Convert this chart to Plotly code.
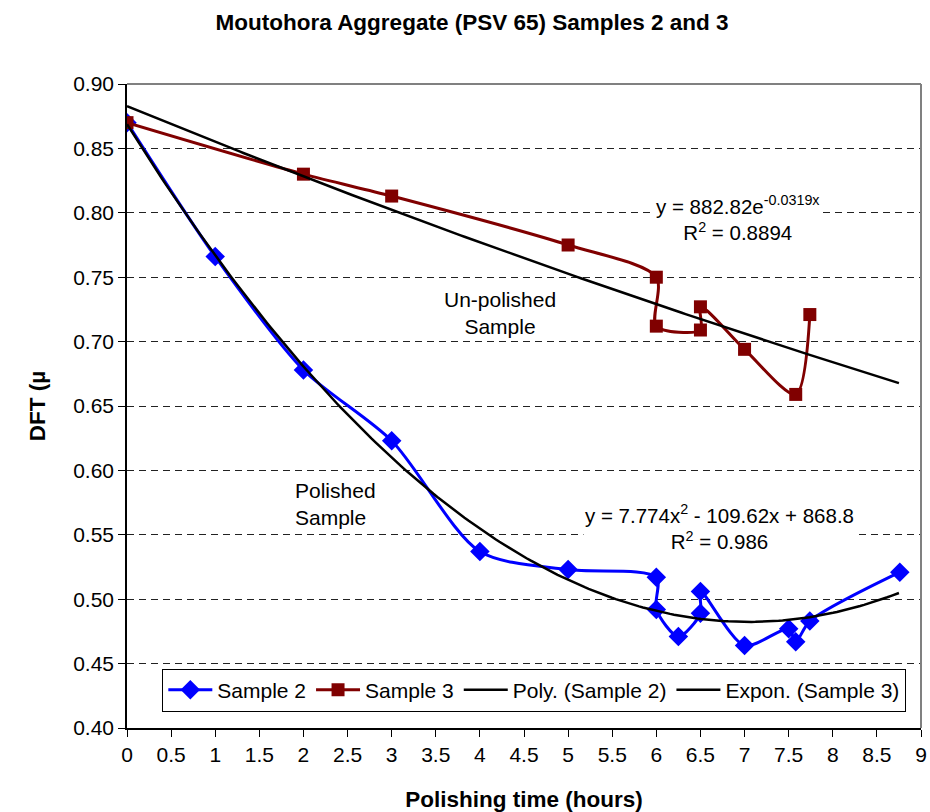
import numpy as np
import plotly.graph_objects as go

# Sample 2 (polished) – blue diamonds
s2_x = [0, 1, 2, 3, 4, 5, 6, 6, 6.25, 6.5, 6.5, 7, 7.5, 7.58, 7.74, 8.76]
s2_y = [0.870, 0.766, 0.678, 0.623, 0.537, 0.523, 0.517, 0.492, 0.471, 0.489, 0.506, 0.464, 0.477, 0.467, 0.483, 0.521]

# Sample 3 (un-polished) – dark red squares
s3_x = [0, 2, 3, 5, 6, 6, 6.5, 6.5, 7, 7.58, 7.74]
s3_y = [0.870, 0.830, 0.813, 0.775, 0.750, 0.712, 0.709, 0.727, 0.694, 0.659, 0.721]

# Trendline equations as printed on the chart (y in 1/1000 units)
poly_coef = [7.774, -109.62, 868.8]      # y = 7.774x^2 - 109.62x + 868.8
expon_a, expon_b = 882.82, -0.0319       # y = 882.82 e^(-0.0319x)
trend_x_max = 8.75

x_ticks = [0, 0.5, 1, 1.5, 2, 2.5, 3, 3.5, 4, 4.5, 5, 5.5, 6, 6.5, 7, 7.5, 8, 8.5, 9]

tx = np.linspace(0, trend_x_max, 200)
poly_y = np.polyval(poly_coef, tx) / 1000.0
expon_y = expon_a * np.exp(expon_b * tx) / 1000.0

FONT = "Liberation Sans, Arial, sans-serif"

W, H = 930, 812

fig = go.Figure()
fig.add_trace(go.Scatter(
    x=s2_x, y=s2_y, name="Sample 2", mode="lines+markers",
    line=dict(color="#0000FF", width=3, shape="spline", smoothing=0.8),
    marker=dict(symbol="diamond", size=15, color="#0000FF")))
fig.add_trace(go.Scatter(
    x=s3_x, y=s3_y, name="Sample 3", mode="lines+markers",
    line=dict(color="#800000", width=3, shape="spline", smoothing=0.8),
    marker=dict(symbol="square", size=13, color="#800000")))
fig.add_trace(go.Scatter(
    x=tx, y=poly_y, name="Poly. (Sample 2)", mode="lines",
    line=dict(color="black", width=2.5)))
fig.add_trace(go.Scatter(
    x=tx, y=expon_y, name="Expon. (Sample 3)", mode="lines",
    line=dict(color="black", width=2.5)))

fig.update_layout(
    width=W, height=H,
    margin=dict(l=127, r=9, t=84, b=84),
    paper_bgcolor="white", plot_bgcolor="white",
    font=dict(family=FONT, size=21, color="black"),
    title=dict(text="Moutohora Aggregate (PSV 65) Samples 2 and 3",
               font=dict(family=FONT, size=22.5, weight="bold"),
               x=472 / W, xanchor="center", xref="container",
               y=1 - 22 / H, yanchor="middle", yref="container"),
    showlegend=True,
    legend=dict(orientation="h", x=0.513, xanchor="center", y=0.059, yanchor="middle",
                bgcolor="white", bordercolor="black", borderwidth=1,
                font=dict(family=FONT, size=21), itemwidth=44,
                tracegroupgap=0),
    xaxis=dict(range=[0, 9], tickvals=x_ticks, showgrid=False, zeroline=False,
               showline=True, linecolor="black", linewidth=1.5,
               ticks="outside", ticklen=7, tickcolor="black",
               tickfont=dict(size=21), automargin=False, ticklabeloverflow="allow",
               title=dict(text="Polishing time (hours)",
                          font=dict(family=FONT, size=22.5, weight="bold"), standoff=30)),
    yaxis=dict(range=[0.40, 0.90], dtick=0.05, tickformat=".2f", zeroline=False,
               showline=True, linecolor="black", linewidth=1.5,
               ticks="outside", ticklen=7, tickcolor="black",
               tickfont=dict(size=21), automargin=False,
               showgrid=True, gridcolor="#222222", gridwidth=1, griddash="7px,5px",
               title=dict(text="DFT (µ",
                          font=dict(family=FONT, size=22.5, weight="bold"), standoff=21)),
    annotations=[
        dict(x=6.93, y=0.796, xref="x", yref="y",
             text="y = 882.82e<sup>-0.0319x</sup><br>R<sup>2</sup> = 0.8894",
             showarrow=False, align="center", bgcolor="white",
             font=dict(size=20.5)),
        dict(x=4.23, y=0.722, xref="x", yref="y",
             text="Un-polished<br>Sample", showarrow=False, align="center",
             font=dict(size=21)),
        dict(x=1.88, y=0.574, xref="x", yref="y", xanchor="left",
             text="Polished<br>Sample", showarrow=False, align="left",
             font=dict(size=21)),
        dict(x=6.72, y=0.556, xref="x", yref="y",
             text="y = 7.774x<sup>2</sup> - 109.62x + 868.8<br>R<sup>2</sup> = 0.986",
             showarrow=False, align="center", bgcolor="white",
             font=dict(size=20.5)),
    ],
    shapes=[
        dict(type="line", xref="paper", yref="paper", x0=0, x1=1, y0=1, y1=1,
             line=dict(color="#808080", width=2)),
        dict(type="line", xref="paper", yref="paper", x0=1, x1=1, y0=0, y1=1,
             line=dict(color="#808080", width=2)),
    ],
)

fig.write_html(
    "out.html",
    config={"displayModeBar": False},
    post_script="document.body.style.margin='0px';document.body.style.overflow='hidden';",
)
